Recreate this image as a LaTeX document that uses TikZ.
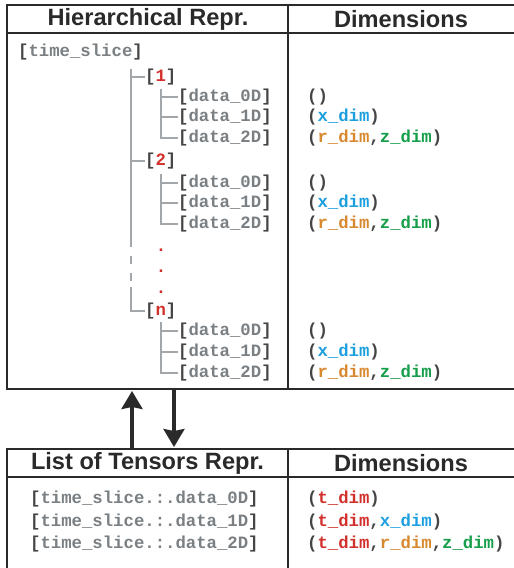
\documentclass[tikz,border=0pt]{standalone}
\usepackage{fontspec}
\setmainfont{Liberation Sans}
\newfontfamily\codefont{Liberation Mono}
\usetikzlibrary{arrows.meta}

\definecolor{framecol}{HTML}{2A2A2A}
\definecolor{brkcol}{HTML}{454545}
\definecolor{namecol}{HTML}{7A7F83}
\definecolor{treecol}{HTML}{A2A7AB}
\definecolor{idxred}{HTML}{D2302B}
\definecolor{dimblue}{HTML}{1C9FDF}
\definecolor{dimorange}{HTML}{D8882E}
\definecolor{dimgreen}{HTML}{169E4A}

% bracketed key: dark brackets, grey name
\newcommand{\keyname}[1]{{\color{brkcol}[}{\color{namecol}#1}{\color{brkcol}]}}
\newcommand{\idx}[1]{{\color{brkcol}[}{\color{idxred}#1}{\color{brkcol}]}}
\newcommand{\xd}{{\color{dimblue}x\_dim}}
\newcommand{\rd}{{\color{dimorange}r\_dim}}
\newcommand{\zd}{{\color{dimgreen}z\_dim}}
\newcommand{\td}{{\color{idxred}t\_dim}}

\tikzset{
  frame/.style={draw=framecol, line width=1.8pt},
  hdr/.style={font=\fontsize{23.6}{26}\bfseries\selectfont, text=framecol, inner sep=0pt},
  code/.style={anchor=west, inner sep=0pt, text height=8pt, text depth=0pt,
               font=\codefont\fontsize{17.3}{20}\bfseries\selectfont, text=brkcol},
  dotmark/.style={anchor=base, inner sep=0pt, text=idxred,
               font=\codefont\fontsize{17.3}{20}\bfseries\selectfont},
  tree/.style={draw=treecol, line width=1.2pt},
  treedash/.style={tree, dash pattern=on 8pt off 9pt, dash phase=8pt},
  flow/.style={draw=framecol, line width=3.3pt,
               -{Stealth[width=21pt,length=18pt,inset=2pt]}},
}

\begin{document}
\begin{tikzpicture}[x=1pt,y=-1pt]
\useasboundingbox (0,0) rectangle (514,568);

% ---------- upper table ----------
\draw[frame] (7,5) rectangle (522,389);
\draw[frame] (7,33) -- (522,33);
\draw[frame] (288,5) -- (288,389);
\node[hdr] (hA) at (148,19.5) {Hierarchical Repr.};
\node[hdr] (hB) at (401,19.5) {Dimensions};

% tree entries
\node[code] (ts)  at (18,52)  {\keyname{time\_slice}};
\node[code] (i1)  at (145,77) {\idx{1}};
\node[code] (d10) at (178,97) {\keyname{data\_0D}};
\node[code] (d11) at (178,117) {\keyname{data\_1D}};
\node[code] (d12) at (178,138) {\keyname{data\_2D}};
\node[code] (i2)  at (145,161) {\idx{2}};
\node[code] (d20) at (178,183) {\keyname{data\_0D}};
\node[code] (d21) at (178,203) {\keyname{data\_1D}};
\node[code] (d22) at (178,224) {\keyname{data\_2D}};
\node[dotmark] (p1) at (161,251) {.};
\node[dotmark] (p2) at (161,272) {.};
\node[dotmark] (p3) at (161,293) {.};
\node[code] (in)  at (145,311) {\idx{n}};
\node[code] (dn0) at (178,331) {\keyname{data\_0D}};
\node[code] (dn1) at (178,352) {\keyname{data\_1D}};
\node[code] (dn2) at (178,373) {\keyname{data\_2D}};

% dimension entries
\node[code] (e10) at (307,97)  {()};
\node[code] (e11) at (307,117) {(\xd)};
\node[code] (e12) at (307,138) {(\rd,\zd)};
\node[code] (e20) at (307,183) {()};
\node[code] (e21) at (307,203) {(\xd)};
\node[code] (e22) at (307,224) {(\rd,\zd)};
\node[code] (en0) at (307,331) {()};
\node[code] (en1) at (307,352) {(\xd)};
\node[code] (en2) at (307,373) {(\rd,\zd)};

% tree connectors
\coordinate (mA) at (131,69);
\coordinate (mB) at (131,247);
\coordinate (mC) at (131,287);
\draw[tree] (mA) |- (i1.west);
\draw[tree] (mA) -- (mB);
\draw[tree] (mA) |- (i2.west);
\draw[treedash] (mB) -- (mC);
\draw[tree] (mC) |- (in.west);

\coordinate (s1) at (161,89);
\draw[tree] (s1) |- (d10.west);
\draw[tree] (s1) |- (d11.west);
\draw[tree] (s1) |- (d12.west);
\coordinate (s2) at (161,174);
\draw[tree] (s2) |- (d20.west);
\draw[tree] (s2) |- (d21.west);
\draw[tree] (s2) |- (d22.west);
\coordinate (s3) at (161,322);
\draw[tree] (s3) |- (dn0.west);
\draw[tree] (s3) |- (dn1.west);
\draw[tree] (s3) |- (dn2.west);

% ---------- lower table ----------
\draw[frame] (7,449) rectangle (522,590);
\draw[frame] (7,477) -- (522,477);
\draw[frame] (288,449) -- (288,590);
\node[hdr] (hC) at (147.5,463.5) {List of Tensors Repr.};
\node[hdr] (hD) at (401,463.5) {Dimensions};

\node[code] (l0) at (30,499) {\keyname{time\_slice.:.data\_0D}};
\node[code] (l1) at (30,522) {\keyname{time\_slice.:.data\_1D}};
\node[code] (l2) at (30,544) {\keyname{time\_slice.:.data\_2D}};
\node[code] (f0) at (307,499) {(\td)};
\node[code] (f1) at (307,522) {(\td,\xd)};
\node[code] (f2) at (307,544) {(\td,\rd,\zd)};

% ---------- conversion arrows ----------
\coordinate (upS) at (132,448);
\coordinate (upE) at (132,391);
\coordinate (dnS) at (174,390);
\coordinate (dnE) at (174,447);
\draw[flow] (upS) -- (upE);
\draw[flow] (dnS) -- (dnE);
\end{tikzpicture}
\end{document}
